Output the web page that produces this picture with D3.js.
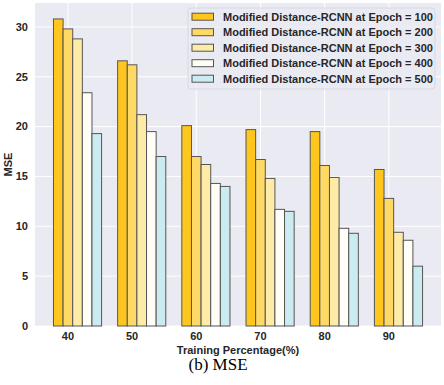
<!DOCTYPE html>
<html>
<head>
<meta charset="utf-8">
<script src="https://cdn.jsdelivr.net/npm/d3@7"></script>
<style>
  body { margin: 0; background: #fff; }
  text { font-family: "Liberation Sans", Arial, sans-serif; }
</style>
</head>
<body>
<div id="chart"></div>
<script>
(function() {
	var width = 444,
		height = 385;

	// training percentages (x groups)
	var categories = ["40", "50", "60", "70", "80", "90"];
	var series = [
		"Modified Distance-RCNN at Epoch = 100",
		"Modified Distance-RCNN at Epoch = 200",
		"Modified Distance-RCNN at Epoch = 300",
		"Modified Distance-RCNN at Epoch = 400",
		"Modified Distance-RCNN at Epoch = 500"
	];
	var epoch100 = [30.8, 26.6, 20.1, 19.7, 19.5, 15.7];
	var epoch200 = [29.8, 26.2, 17.0, 16.7, 16.1, 12.8];
	var epoch300 = [28.8, 21.2, 16.2, 14.8, 14.9, 9.4];
	var epoch400 = [23.4, 19.5, 14.3, 11.7, 9.8, 8.6];
	var epoch500 = [19.3, 17.0, 14.0, 11.5, 9.3, 6.0];
	var yTicks = [0, 5, 10, 15, 20, 25, 30];

	var allValues = [epoch100, epoch200, epoch300, epoch400, epoch500];
	var colors = ["#FFC61E", "#FFD966", "#FFEBA8", "#FFFEF6", "#CCEBF0"];

	var margin = {left: 35, right: 3, top: 3, bottom: 59};
	var plotW = width - margin.left - margin.right,
		plotH = height - margin.top - margin.bottom;
	var barW = 0.15;

	var svg = d3.select("#chart")
		.append("svg")
		.attr("width", width)
		.attr("height", height);

	var g = svg.append("g")
		.attr("transform", "translate(" + margin.left + "," + margin.top + ")");

	// linear x like matplotlib: group i, bar k centred at i + k*barW
	var x = d3.scaleLinear()
		.domain([-0.3625, 5.9625])
		.range([0, plotW]);
	var y = d3.scaleLinear()
		.domain([0, 32.4])
		.range([plotH, 0]);

	// background
	g.append("rect")
		.attr("width", plotW)
		.attr("height", plotH)
		.attr("fill", "#EAEAF2");

	// grid
	g.selectAll(".hgrid")
		.data(yTicks)
		.enter().append("line")
		.attr("x1", 0).attr("x2", plotW)
		.attr("y1", function(d) { return y(d); })
		.attr("y2", function(d) { return y(d); })
		.attr("stroke", "#fff")
		.attr("stroke-width", 1);

	g.selectAll(".vgrid")
		.data(categories)
		.enter().append("line")
		.attr("x1", function(d, i) { return x(i + barW); })
		.attr("x2", function(d, i) { return x(i + barW); })
		.attr("y1", 0).attr("y2", plotH)
		.attr("stroke", "#fff")
		.attr("stroke-width", 1);

	// bars
	allValues.forEach(function(vals, k) {
		g.selectAll(".bar" + k)
			.data(vals)
			.enter().append("rect")
			.attr("x", function(d, i) { return x(i + k * barW - barW / 2); })
			.attr("width", x(barW) - x(0))
			.attr("y", function(d) { return y(d); })
			.attr("height", function(d) { return plotH - y(d); })
			.attr("fill", colors[k])
			.attr("stroke", "#555")
			.attr("stroke-width", 1);
	});

	// y ticks
	g.selectAll(".ylab")
		.data(yTicks)
		.enter().append("text")
		.attr("x", -7)
		.attr("y", function(d) { return y(d); })
		.attr("dy", "0.35em")
		.attr("text-anchor", "end")
		.style("font-size", "11px")
		.style("font-weight", "bold")
		.attr("fill", "#262626")
		.text(function(d) { return d; });

	// x ticks
	g.selectAll(".xlab")
		.data(categories)
		.enter().append("text")
		.attr("x", function(d, i) { return x(i + barW); })
		.attr("y", plotH + 14)
		.attr("text-anchor", "middle")
		.style("font-size", "11px")
		.style("font-weight", "bold")
		.attr("fill", "#262626")
		.text(function(d) { return d; });

	// axis titles
	g.append("text")
		.attr("x", plotW / 2)
		.attr("y", plotH + 28)
		.attr("text-anchor", "middle")
		.style("font-size", "11px")
		.style("font-weight", "bold")
		.attr("fill", "#262626")
		.text("Training Percentage(%)");

	svg.append("text")
		.attr("transform", "translate(12," + (margin.top + plotH / 2) + ") rotate(-90)")
		.attr("text-anchor", "middle")
		.style("font-size", "11px")
		.style("font-weight", "bold")
		.attr("fill", "#262626")
		.text("MSE");

	// caption
	svg.append("text")
		.attr("x", 218)
		.attr("y", 370)
		.attr("text-anchor", "middle")
		.style("font-family", "'Liberation Serif', 'Times New Roman', serif")
		.style("font-size", "17px")
		.attr("fill", "#000")
		.text("(b) MSE");

	// legend
	var legend = svg.append("g")
		.attr("transform", "translate(188,8)");
	legend.append("rect")
		.attr("width", 247)
		.attr("height", 81)
		.attr("rx", 3)
		.attr("fill", "#EAEAF2")
		.attr("fill-opacity", 0.8)
		.attr("stroke", "#d8d8e0");

	var items = legend.selectAll(".item")
		.data(series)
		.enter().append("g")
		.attr("transform", function(d, i) { return "translate(0," + (8.7 + i * 15.5) + ")"; });
	items.append("rect")
		.attr("x", 4)
		.attr("y", -3.5)
		.attr("width", 21.5)
		.attr("height", 7)
		.attr("fill", function(d, i) { return colors[i]; })
		.attr("stroke", "#555");
	items.append("text")
		.attr("x", 35)
		.attr("dy", "0.35em")
		.style("font-size", "11px")
		.style("font-weight", "bold")
		.attr("fill", "#262626")
		.text(function(d) { return d; });

}) ();
</script>
</body>
</html>
